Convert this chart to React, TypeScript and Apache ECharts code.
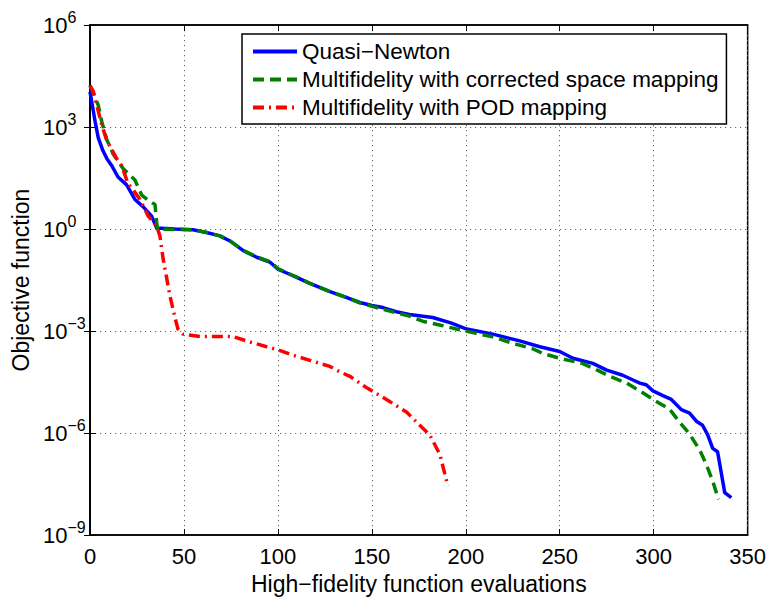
import React, { useEffect, useRef } from "react";
import * as echarts from "echarts";

const qnX = [0, 2.7, 4.4, 6.9, 9, 11.5, 14.9, 19.5, 23.9, 28.2, 32.8, 35.5, 45, 54.8, 62, 69.1, 74.5, 81.4, 88.7, 95.7, 100, 105, 110, 117, 127.7, 136, 143.6, 150, 155.9, 163, 170, 182.4, 192, 200.5, 214.4, 228.7, 239.4, 250, 257, 267.6, 275, 283.5, 289, 292.6, 296, 299.6, 304.9, 309.4, 314.7, 319.1, 322.7, 326, 328.8, 331.4, 334, 337.8, 341.3];
const qnLog = [4.04, 3.17, 2.68, 2.3, 2.07, 1.87, 1.53, 1.3, 0.87, 0.66, 0.38, 0.03, 0.0, -0.02, -0.1, -0.2, -0.35, -0.63, -0.83, -0.97, -1.18, -1.3, -1.42, -1.6, -1.84, -2.0, -2.16, -2.25, -2.31, -2.43, -2.51, -2.6, -2.76, -2.94, -3.09, -3.29, -3.46, -3.6, -3.8, -3.95, -4.15, -4.3, -4.44, -4.53, -4.58, -4.76, -4.9, -5.01, -5.31, -5.41, -5.65, -5.77, -6.06, -6.45, -6.55, -7.75, -7.9];

const csmX = [0, 4.4, 6.2, 8.9, 12.4, 17.7, 21, 23.9, 27.5, 31, 34.6, 35.5, 36, 45, 54.8, 62, 69.1, 74.5, 81.4, 88.7, 95.7, 100, 105, 110, 117, 127.7, 136, 143.6, 150.6, 160, 170, 177, 186, 195, 205, 214.4, 225, 235.6, 241, 250, 262, 270, 276.6, 285.6, 292.6, 299.6, 308.5, 313.8, 319, 324.5, 328, 331.4, 334.5];
const csmLog = [4.22, 3.64, 3.17, 2.63, 2.2, 1.77, 1.6, 1.44, 1.0, 0.85, 0.72, 0.18, 0.0, -0.01, -0.02, -0.1, -0.2, -0.35, -0.62, -0.82, -0.96, -1.16, -1.29, -1.41, -1.6, -1.84, -2.0, -2.17, -2.28, -2.42, -2.56, -2.71, -2.82, -2.94, -3.06, -3.17, -3.36, -3.52, -3.66, -3.8, -3.95, -4.15, -4.33, -4.53, -4.76, -5.01, -5.3, -5.68, -6.02, -6.5, -6.92, -7.41, -7.95];

const podX = [0, 1.8, 6.2, 9, 14.4, 16.8, 20.2, 23, 26.6, 31, 35.5, 37.2, 38.9, 40.8, 42.6, 45.2, 46.8, 49.5, 58.5, 67, 76, 85, 94, 100, 108, 117, 127.7, 133, 138.3, 147.3, 158, 168.6, 175.5, 180.9, 186.2, 190.5];
const podLog = [4.22, 4.04, 3.07, 2.6, 2.05, 1.87, 1.34, 1.15, 0.87, 0.38, 0.09, -0.2, -0.87, -1.44, -1.98, -2.6, -2.94, -3.09, -3.16, -3.16, -3.16, -3.32, -3.46, -3.55, -3.71, -3.86, -4.04, -4.2, -4.33, -4.67, -5.02, -5.39, -5.77, -6.06, -6.63, -7.56];

const seriesNames = [
  "Quasi\u2212Newton",
  "Multifidelity with corrected space mapping",
  "Multifidelity with POD mapping",
];

const FONT = "'Liberation Sans', Arial, Helvetica, sans-serif";

function pairs(xs: number[], logs: number[]) {
  return xs.map((x, i) => [x, Math.pow(10, logs[i])]);
}

export default function App() {
  const ref = useRef<HTMLDivElement>(null);
  useEffect(() => {
    if (!ref.current) return;
    const chart = echarts.init(ref.current, null, { renderer: "svg" });
    const yLabel = (v: number) => {
      const e = Math.round(Math.log10(v));
      const s = e < 0 ? "\u2212" + Math.abs(e) : String(e);
      return `{b|10}{e|${s}}`;
    };
    const rich = {
      b: { fontSize: 22, fontFamily: FONT, color: "#000" },
      e: { fontSize: 16, fontFamily: FONT, color: "#000", padding: [0, 0, 16, 0] },
    };
    chart.setOption({
      animation: false,
      backgroundColor: "#fff",
      textStyle: { fontFamily: FONT, color: "#000" },
      grid: { left: 90, top: 25, right: 21, bottom: 56, show: true, borderColor: "#000", borderWidth: 1.5, backgroundColor: "#fff" },
      legend: {
        left: 242,
        top: 34,
        orient: "vertical",
        backgroundColor: "#fff",
        borderColor: "#000",
        borderWidth: 1.5,
        borderRadius: 0,
        padding: [6, 8, 5, 9],
        itemGap: 5,
        itemWidth: 44,
        itemHeight: 14,
        itemStyle: { opacity: 0 },
        lineStyle: { width: 4 },
        textStyle: { fontSize: 22.5, fontFamily: FONT, color: "#000" },
        data: seriesNames,
      },
      xAxis: [
        {
          type: "value",
          min: 0,
          max: 350,
          interval: 50,
          position: "bottom",
          name: "High\u2212fidelity function evaluations",
          nameLocation: "middle",
          nameGap: 29,
          nameTextStyle: { fontSize: 23, fontFamily: FONT, color: "#000" },
          axisLine: { show: true, lineStyle: { color: "#000", width: 1.5 } },
          axisTick: { show: true, inside: true, length: 6, lineStyle: { color: "#000" } },
          axisLabel: { fontSize: 22, fontFamily: FONT, color: "#000", margin: 10, formatter: (v: number) => String(v) },
          splitLine: { show: true, lineStyle: { color: "#666", type: [1.2, 3.8], width: 1 } },
        },
        {
          type: "value",
          min: 0,
          max: 350,
          interval: 50,
          position: "top",
          axisLine: { show: true, lineStyle: { color: "#000", width: 1.5 } },
          axisTick: { show: true, inside: true, length: 6, lineStyle: { color: "#000" } },
          axisLabel: { show: false },
          splitLine: { show: false },
        },
      ],
      yAxis: [
        {
          type: "log",
          logBase: 10,
          min: 1e-9,
          max: 1e6,
          interval: 3,
          position: "left",
          name: "Objective function",
          nameLocation: "middle",
          nameGap: 56,
          nameRotate: 90,
          nameTextStyle: { fontSize: 23, fontFamily: FONT, color: "#000" },
          axisLine: { show: true, lineStyle: { color: "#000", width: 1.5 } },
          axisTick: { show: true, inside: true, length: 6, lineStyle: { color: "#000" } },
          minorTick: { show: false },
          axisLabel: { formatter: yLabel, rich, margin: 47, align: "left" },
          splitLine: { show: true, lineStyle: { color: "#666", type: [1.2, 3.8], width: 1 } },
        },
        {
          type: "log",
          logBase: 10,
          min: 1e-9,
          max: 1e6,
          interval: 3,
          position: "right",
          axisLine: { show: true, lineStyle: { color: "#000", width: 1.5 } },
          axisTick: { show: true, inside: true, length: 6, lineStyle: { color: "#000" } },
          axisLabel: { show: false },
          splitLine: { show: false },
        },
      ],
      series: [
        {
          name: seriesNames[0],
          type: "line",
          data: pairs(qnX, qnLog),
          symbol: "none",
          z: 3,
          lineStyle: { color: "#0000ff", width: 3.5, type: "solid" },
          itemStyle: { color: "#0000ff" },
        },
        {
          name: seriesNames[1],
          type: "line",
          data: pairs(csmX, csmLog),
          symbol: "none",
          z: 4,
          lineStyle: { color: "#008000", width: 3.5, type: [11, 6] },
          itemStyle: { color: "#008000" },
        },
        {
          name: seriesNames[2],
          type: "line",
          data: pairs(podX, podLog),
          symbol: "none",
          z: 5,
          lineStyle: { color: "#ff0000", width: 3.5, type: [11, 5, 2, 5] },
          itemStyle: { color: "#ff0000" },
        },
      ],
    });
    return () => chart.dispose();
  }, []);
  return <div ref={ref} style={{ position: "fixed", left: 0, top: 0, width: 769, height: 600 }} />;
}
